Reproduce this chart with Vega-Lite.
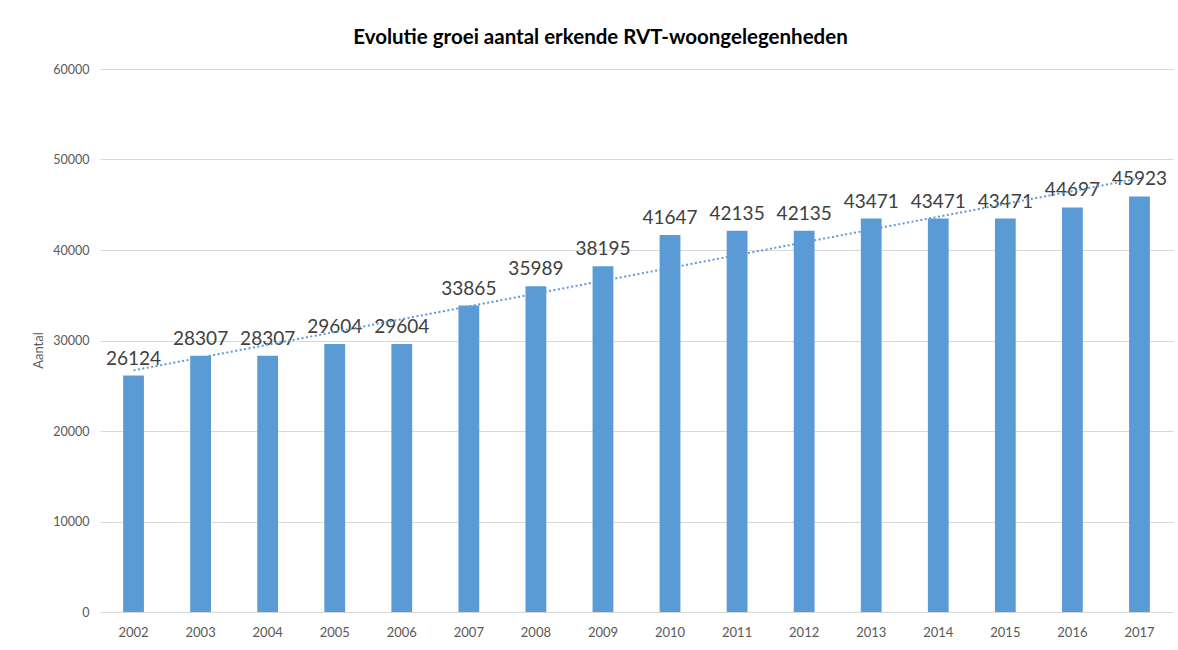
{
  "$schema": "https://vega.github.io/schema/vega-lite/v6.json",
  "width": 1073,
  "height": 543,
  "autosize": {"type": "none"},
  "padding": {"left": 100, "top": 69, "right": 5, "bottom": 38},
  "background": "white",
  "title": {
    "text": "Evolutie groei aantal erkende RVT-woongelegenheden",
    "font": "Lato",
    "fontSize": 20.5,
    "fontWeight": "bold",
    "color": "#000000",
    "anchor": "middle",
    "dx": -36,
    "offset": 15
  },
  "data": {
    "values": [
      {"year": 2002, "aantal": 26124},
      {"year": 2003, "aantal": 28307},
      {"year": 2004, "aantal": 28307},
      {"year": 2005, "aantal": 29604},
      {"year": 2006, "aantal": 29604},
      {"year": 2007, "aantal": 33865},
      {"year": 2008, "aantal": 35989},
      {"year": 2009, "aantal": 38195},
      {"year": 2010, "aantal": 41647},
      {"year": 2011, "aantal": 42135},
      {"year": 2012, "aantal": 42135},
      {"year": 2013, "aantal": 43471},
      {"year": 2014, "aantal": 43471},
      {"year": 2015, "aantal": 43471},
      {"year": 2016, "aantal": 44697},
      {"year": 2017, "aantal": 45923}
    ]
  },
  "encoding": {
    "x": {
      "field": "year",
      "type": "ordinal",
      "scale": {"paddingInner": 0.69, "paddingOuter": 0.345},
      "axis": {
        "title": null,
        "labelAngle": 0,
        "labelFont": "Lato",
        "labelFontSize": 13,
        "labelColor": "#595959",
        "labelPadding": 14,
        "ticks": false,
        "domainColor": "#d9d9d9",
        "domainWidth": 1
      }
    }
  },
  "layer": [
    {
      "mark": {"type": "bar", "color": "#5B9BD5"},
      "encoding": {
        "y": {
          "field": "aantal",
          "type": "quantitative",
          "scale": {"domain": [0, 60000]},
          "axis": {
            "title": "Aantal",
            "titleFont": "Lato",
            "titleFontSize": 13,
            "titleFontWeight": "normal",
            "titleColor": "#595959",
            "titleX": -55,
            "titleY": 281,
            "values": [0, 10000, 20000, 30000, 40000, 50000, 60000],
            "format": "d",
            "labelFont": "Lato",
            "labelFontSize": 12.5,
            "labelColor": "#595959",
            "labelPadding": 11,
            "ticks": false,
            "domain": false,
            "gridColor": "#d9d9d9",
            "gridWidth": 1
          }
        }
      }
    },
    {
      "mark": {"type": "text", "baseline": "alphabetic", "dy": -11, "font": "Lato", "fontSize": 19, "color": "#404040"},
      "encoding": {
        "y": {"field": "aantal", "type": "quantitative"},
        "text": {"field": "aantal", "type": "quantitative", "format": "d"}
      }
    },
    {
      "transform": [{"regression": "aantal", "on": "year", "method": "linear"}],
      "mark": {"type": "line", "color": "#5B9BD5", "strokeWidth": 2, "strokeDash": [2, 2.5]},
      "encoding": {
        "y": {"field": "aantal", "type": "quantitative"}
      }
    }
  ],
  "config": {"view": {"stroke": null}}
}
